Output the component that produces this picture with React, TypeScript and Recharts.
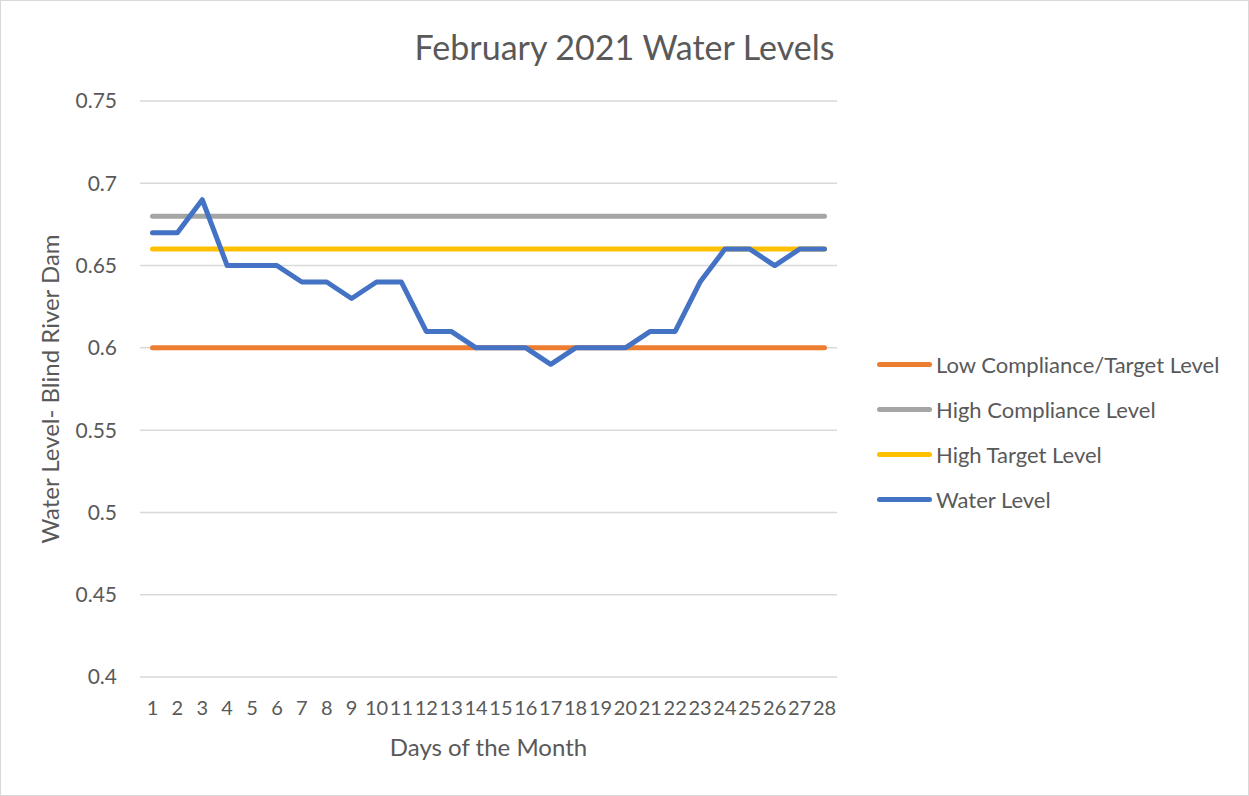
import { LineChart, Line, XAxis, YAxis, CartesianGrid } from "recharts";

const days = [
  "1", "2", "3", "4", "5", "6", "7", "8", "9", "10", "11", "12", "13", "14",
  "15", "16", "17", "18", "19", "20", "21", "22", "23", "24", "25", "26", "27", "28",
];
const lowCompliance = [
  0.6, 0.6, 0.6, 0.6, 0.6, 0.6, 0.6, 0.6, 0.6, 0.6, 0.6, 0.6, 0.6, 0.6,
  0.6, 0.6, 0.6, 0.6, 0.6, 0.6, 0.6, 0.6, 0.6, 0.6, 0.6, 0.6, 0.6, 0.6,
];
const highCompliance = [
  0.68, 0.68, 0.68, 0.68, 0.68, 0.68, 0.68, 0.68, 0.68, 0.68, 0.68, 0.68, 0.68, 0.68,
  0.68, 0.68, 0.68, 0.68, 0.68, 0.68, 0.68, 0.68, 0.68, 0.68, 0.68, 0.68, 0.68, 0.68,
];
const highTarget = [
  0.66, 0.66, 0.66, 0.66, 0.66, 0.66, 0.66, 0.66, 0.66, 0.66, 0.66, 0.66, 0.66, 0.66,
  0.66, 0.66, 0.66, 0.66, 0.66, 0.66, 0.66, 0.66, 0.66, 0.66, 0.66, 0.66, 0.66, 0.66,
];
const waterLevel = [
  0.67, 0.67, 0.69, 0.65, 0.65, 0.65, 0.64, 0.64, 0.63, 0.64, 0.64, 0.61, 0.61, 0.6,
  0.6, 0.6, 0.59, 0.6, 0.6, 0.6, 0.61, 0.61, 0.64, 0.66, 0.66, 0.65, 0.66, 0.66,
];
const yTicks = [0.4, 0.45, 0.5, 0.55, 0.6, 0.65, 0.7, 0.75];

const series = [
  { key: "low", name: "Low Compliance/Target Level", color: "#ED7D31" },
  { key: "highComp", name: "High Compliance Level", color: "#A5A5A5" },
  { key: "highTarget", name: "High Target Level", color: "#FFC000" },
  { key: "water", name: "Water Level", color: "#4472C4" },
];

const data = days.map((d, i) => ({
  day: d,
  low: lowCompliance[i],
  highComp: highCompliance[i],
  highTarget: highTarget[i],
  water: waterLevel[i],
}));

const FONT = "Lato, 'Open Sans', sans-serif";
const TEXT = "#595959";

export default function App() {
  return (
    <div
      style={{
        position: "absolute",
        left: 0,
        top: 0,
        width: 1249,
        height: 796,
        fontFamily: FONT,
        background: "#fff",
      }}
    >
      <div
        style={{
          position: "absolute",
          left: 0,
          top: 0,
          width: 1249,
          height: 796,
          boxSizing: "border-box",
          border: "1.5px solid #d9d9d9",
          pointerEvents: "none",
        }}
      />
      <div
        style={{
          position: "absolute",
          left: 0,
          top: 26,
          width: 1249,
          textAlign: "center",
          fontSize: 34,
          color: TEXT,
          lineHeight: "42px",
        }}
      >
        February 2021 Water Levels
      </div>
      <LineChart
        width={1249}
        height={796}
        data={data}
        margin={{ top: 101, right: 412, left: 0, bottom: 0 }}
      >
        <CartesianGrid vertical={false} stroke="#d9d9d9" strokeWidth={1.5} />
        <XAxis
          dataKey="day"
          interval={0}
          axisLine={false}
          tickLine={false}
          tickSize={0}
          tickMargin={24}
          height={119}
          padding={{ left: 12.5, right: 12.5 }}
          tick={{ fill: TEXT, fontSize: 20, fontFamily: FONT }}
          label={{
            value: "Days of the Month",
            position: "insideBottom",
            offset: 40,
            fill: TEXT,
            fontSize: 24,
            fontFamily: FONT,
          }}
        />
        <YAxis
          domain={[0.4, 0.75]}
          ticks={yTicks}
          axisLine={false}
          tickLine={false}
          tickSize={0}
          tickMargin={23}
          width={140}
          tick={{ fill: TEXT, fontSize: 21, fontFamily: FONT }}
          label={{
            value: "Water Level- Blind River Dam",
            angle: -90,
            position: "insideLeft",
            offset: 50,
            fill: TEXT,
            fontSize: 24,
            fontFamily: FONT,
            style: { textAnchor: "middle" },
          }}
        />
        {series.map((s) => (
          <Line
            key={s.key}
            dataKey={s.key}
            name={s.name}
            type="linear"
            stroke={s.color}
            strokeWidth={5}
            strokeLinecap="round"
            strokeLinejoin="round"
            dot={false}
            activeDot={false}
            isAnimationActive={false}
          />
        ))}
      </LineChart>
      <div style={{ position: "absolute", left: 877, top: 342 }}>
        {series.map((s) => (
          <div
            key={s.key}
            style={{ display: "flex", alignItems: "center", height: 45 }}
          >
            <div
              style={{
                width: 55,
                height: 5,
                borderRadius: 3,
                background: s.color,
                marginRight: 4,
              }}
            />
            <span style={{ fontSize: 22, color: TEXT, whiteSpace: "nowrap" }}>
              {s.name}
            </span>
          </div>
        ))}
      </div>
    </div>
  );
}
